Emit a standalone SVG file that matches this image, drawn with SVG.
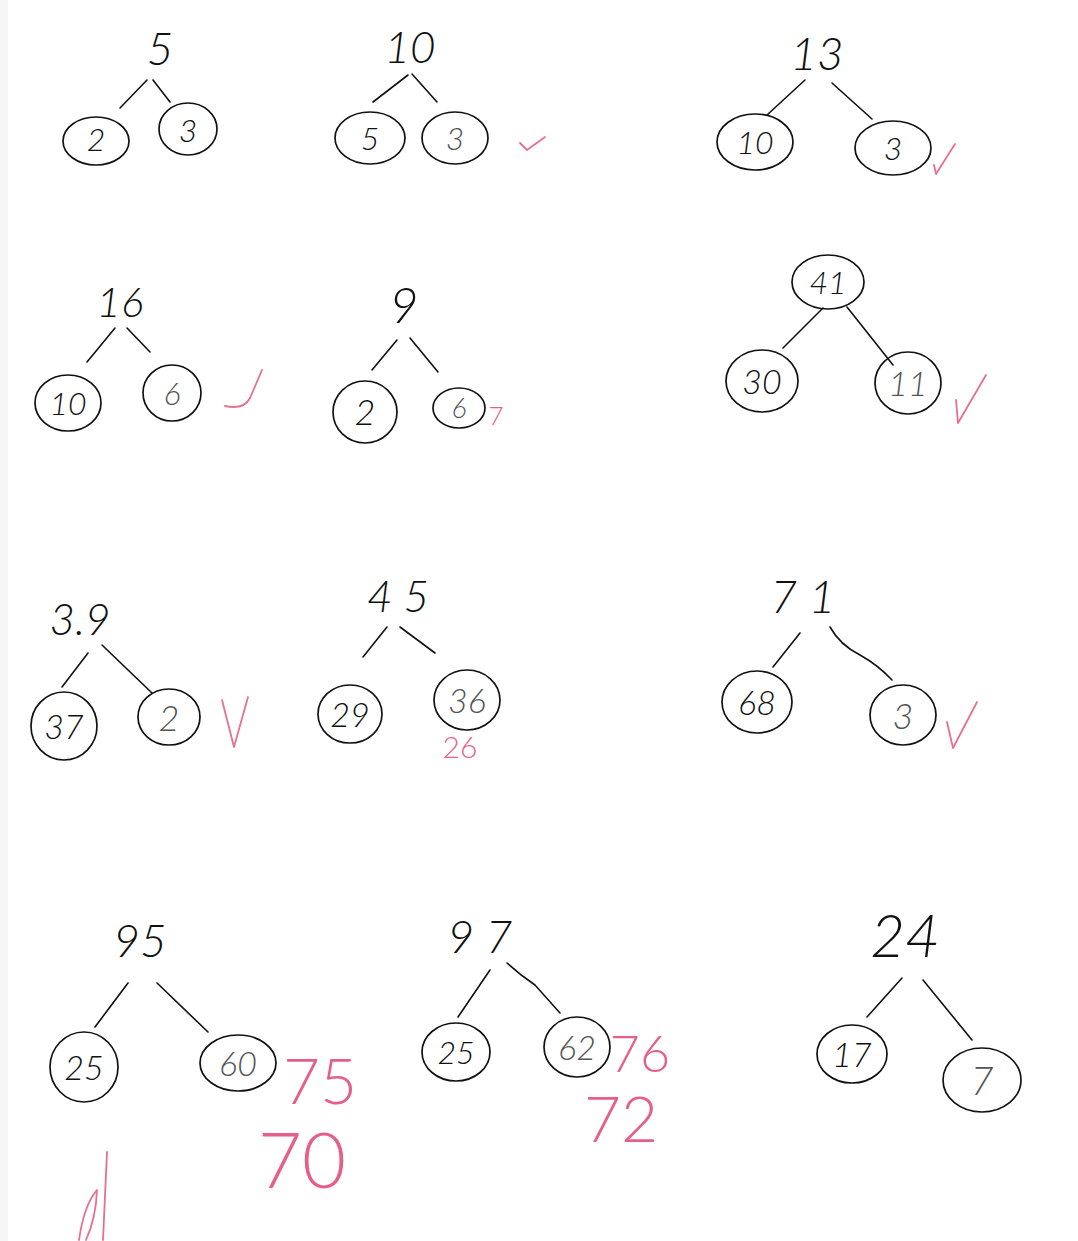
<svg xmlns="http://www.w3.org/2000/svg" width="1078" height="1241" viewBox="0 0 1078 1241">
<style>
.bg{fill:#ffffff}
.edge{fill:#f6f6f6}
.n{font-family:Lato,"Liberation Sans",sans-serif;font-style:italic;font-weight:300;fill:#111;text-anchor:middle}
.g{fill:#555}
.p{font-family:Lato,"Liberation Sans",sans-serif;font-weight:300;fill:#e65f88;text-anchor:middle}
.c{fill:none;stroke:#111;stroke-width:1.7}
.l{fill:none;stroke:#111;stroke-width:1.6;stroke-linecap:round}
.chk{fill:none;stroke:#e8708f;stroke-width:1.8;stroke-linecap:round;stroke-linejoin:round}
</style>
<rect class="bg" x="0" y="0" width="1078" height="1241"/>
<rect class="edge" x="0" y="0" width="8" height="1241"/>

<g id="connectors">
<path class="l" d="M147,80 L120,108"/><path class="l" d="M153,80 L170,102"/>
<path class="l" d="M408,75 L373,102"/><path class="l" d="M412,74 L437,102"/>
<path class="l" d="M805,80 L767,115"/><path class="l" d="M832,83 L872,119"/>
<path class="l" d="M115,328 L87,362"/><path class="l" d="M127,328 L150,352"/>
<path class="l" d="M397,340 L372,370"/><path class="l" d="M410,338 L438,372"/>
<path class="l" d="M823,308 L783,348"/><path class="l" d="M847,307 L893,365"/>
<path class="l" d="M88,653 L62,687"/><path class="l" d="M102,645 L152,693"/>
<path class="l" d="M387,627 L363,657"/><path class="l" d="M400,627 L435,653"/>
<path class="l" d="M800,633 L773,667"/><path class="l" d="M830,627 Q840,645 860,655 Q878,665 892,680"/>
<path class="l" d="M128,983 L95,1027"/><path class="l" d="M157,983 L208,1032"/>
<path class="l" d="M490,970 L458,1017"/><path class="l" d="M507,963 Q520,975 535,985 L560,1013"/>
<path class="l" d="M902,978 L867,1017"/><path class="l" d="M923,980 L972,1040"/>
</g>

<!-- Tree 1 -->
<g id="t1-top"><text class="n" x="160" y="65" font-size="46">5</text></g>
<g id="t1-a"><ellipse class="c" cx="96" cy="141" rx="33" ry="24"/><text class="n" x="96" y="151" font-size="32">2</text></g>
<g id="t1-b"><ellipse class="c" cx="188" cy="129" rx="29" ry="26"/><text class="n" x="188" y="142" font-size="32">3</text></g>

<!-- Tree 2 -->
<g id="t2-top"><text class="n" x="410" y="63" font-size="44">10</text></g>
<g id="t2-a"><ellipse class="c" cx="370" cy="138" rx="35" ry="26"/><text class="n" x="370" y="150" font-size="32">5</text></g>
<g id="t2-b"><ellipse class="c" cx="455" cy="138" rx="33" ry="26"/><text class="n g" x="455" y="150" font-size="32">3</text></g>
<path class="chk" d="M520,143 L527,150 L545,137"/>

<!-- Tree 3 -->
<g id="t3-top"><text class="n" x="817" y="70" font-size="46">13</text></g>
<g id="t3-a"><ellipse class="c" cx="755" cy="142" rx="38" ry="28"/><text class="n" x="755" y="154" font-size="32">10</text></g>
<g id="t3-b"><ellipse class="c" cx="893" cy="148" rx="38" ry="27"/><text class="n" x="893" y="160" font-size="32">3</text></g>
<path class="chk" d="M934,165 L936,174 L955,144"/>

<!-- Tree 4 -->
<g id="t4-top"><text class="n" x="120" y="317" font-size="42">16</text></g>
<g id="t4-a"><ellipse class="c" cx="68" cy="403" rx="33" ry="28"/><text class="n" x="68" y="415" font-size="32">10</text></g>
<g id="t4-b"><ellipse class="c" cx="172" cy="393" rx="29" ry="28"/><text class="n g" x="172" y="405" font-size="32">6</text></g>
<path class="chk" d="M225,406 Q244,410 250,398 L262,370"/>

<!-- Tree 5 -->
<g id="t5-top"><text class="n" x="404" y="323" font-size="50">9</text></g>
<g id="t5-a"><ellipse class="c" cx="365" cy="412" rx="32" ry="31"/><text class="n" x="365" y="425" font-size="36">2</text></g>
<g id="t5-b"><ellipse class="c" cx="459" cy="408" rx="26" ry="20"/><text class="n g" x="459" y="418" font-size="28">6</text></g>
<text class="p" x="496" y="425" font-size="26">7</text>

<!-- Tree 6 -->
<g id="t6-top"><ellipse class="c" cx="828" cy="282" rx="36" ry="27"/><text class="n" x="828" y="294" font-size="32">41</text></g>
<g id="t6-a"><ellipse class="c" cx="762" cy="381" rx="36" ry="31"/><text class="n" x="762" y="394" font-size="34">30</text></g>
<g id="t6-b"><ellipse class="c" cx="908" cy="383" rx="33" ry="31"/><text class="n g" x="908" y="396" font-size="34">11</text></g>
<path class="chk" d="M956,400 L958,423 L986,375"/>

<!-- Tree 7 -->
<g id="t7-top"><text class="n" x="80" y="635" font-size="44">3.9</text></g>
<g id="t7-a"><ellipse class="c" cx="64" cy="726" rx="33" ry="34"/><text class="n" x="64" y="739" font-size="34">37</text></g>
<g id="t7-b"><ellipse class="c" cx="169" cy="717" rx="31" ry="28"/><text class="n g" x="169" y="731" font-size="36">2</text></g>
<path class="chk" d="M222,700 L234,747 L248,697"/>

<!-- Tree 8 -->
<g id="t8-top"><text class="n" x="398" y="612" font-size="44">4 5</text></g>
<g id="t8-a"><ellipse class="c" cx="350" cy="714" rx="32" ry="29"/><text class="n" x="350" y="727" font-size="34">29</text></g>
<g id="t8-b"><ellipse class="c" cx="467" cy="700" rx="33" ry="30"/><text class="n g" x="467" y="713" font-size="34">36</text></g>
<text class="p" x="460" y="758" font-size="30">26</text>

<!-- Tree 9 -->
<g id="t9-top"><text class="n" x="803" y="613" font-size="46">7 1</text></g>
<g id="t9-a"><ellipse class="c" cx="757" cy="702" rx="35" ry="31"/><text class="n" x="757" y="715" font-size="34">68</text></g>
<g id="t9-b"><ellipse class="c" cx="903" cy="715" rx="33" ry="30"/><text class="n g" x="903" y="729" font-size="36">3</text></g>
<path class="chk" d="M947,722 L953,748 L977,702"/>

<!-- Tree 10 -->
<g id="t10-top"><text class="n" x="140" y="957" font-size="46">95</text></g>
<g id="t10-a"><ellipse class="c" cx="84" cy="1067" rx="34" ry="35"/><text class="n" x="84" y="1080" font-size="34">25</text></g>
<g id="t10-b"><ellipse class="c" cx="238" cy="1063" rx="38" ry="28"/><text class="n g" x="238" y="1076" font-size="34">60</text></g>
<text class="p" x="320" y="1104" font-size="64">75</text>
<text class="p" x="302" y="1188" font-size="76">70</text>
<path class="chk" d="M107,1152 L103,1240 M79,1240 Q84,1205 97,1190 Q96,1218 86,1240"/>

<!-- Tree 11 -->
<g id="t11-top"><text class="n" x="480" y="953" font-size="46">9 7</text></g>
<g id="t11-a"><ellipse class="c" cx="456" cy="1052" rx="34" ry="29"/><text class="n" x="456" y="1064" font-size="32">25</text></g>
<g id="t11-b"><ellipse class="c" cx="577" cy="1047" rx="33" ry="30"/><text class="n g" x="577" y="1060" font-size="34">62</text></g>
<text class="p" x="640" y="1072" font-size="52">76</text>
<text class="p" x="621" y="1142" font-size="64">72</text>

<!-- Tree 12 -->
<g id="t12-top"><text class="n" x="905" y="957" font-size="60">24</text></g>
<g id="t12-a"><ellipse class="c" cx="852" cy="1054" rx="35" ry="29"/><text class="n" x="852" y="1067" font-size="34">17</text></g>
<g id="t12-b"><ellipse class="c" cx="982" cy="1080" rx="39" ry="32"/><text class="n g" x="982" y="1095" font-size="40">7</text></g>
</svg>
